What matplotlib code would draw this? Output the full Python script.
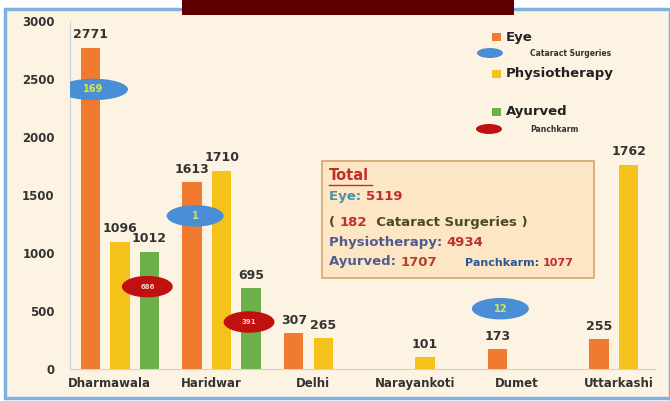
import matplotlib.pyplot as plt
from matplotlib.patches import Rectangle, Ellipse

# data
places = ['Dharmawala', 'Haridwar', 'Delhi', 'Narayankoti', 'Dumet', 'Uttarkashi']
eye = [2771, 1613, 307, 0, 173, 255]
physio = [1096, 1710, 265, 101, 0, 1762]
ayurved = [1012, 695, 0, 0, 0, 0]
cataract = {'Dharmawala': 169, 'Haridwar': 1, 'Dumet': 12}
panchkarm = {'Dharmawala': 686, 'Haridwar': 391}
# ellipse heights (where the bubbles sit on the bars)
cataract_y = {'Dharmawala': 2410, 'Haridwar': 1320, 'Dumet': 520}
panchkarm_y = {'Dharmawala': 710, 'Haridwar': 405}

W, H = 670, 401
def fx(px):
    return px / W
def fy(py):
    return 1 - py / H

fig = plt.figure(figsize=(6.7, 4.01), dpi=100)
fig.patch.set_facecolor('white')
renderer = fig.canvas.get_renderer()

# panel background + blue frame
fig.add_artist(Rectangle((fx(5), fy(398)), fx(670) - fx(5), fy(9) - fy(398),
                         transform=fig.transFigure, facecolor='#fdf3e3',
                         edgecolor='#7fb0e0', lw=2.5, zorder=0))
# dark red block on top
fig.add_artist(Rectangle((fx(182), fy(15)), fx(514) - fx(182), fy(0) - fy(15),
                         transform=fig.transFigure, facecolor='#5e0000',
                         edgecolor='none', zorder=1))

ax = fig.add_axes([fx(70), fy(369), fx(655) - fx(70), fy(21) - fy(369)])
ax.set_facecolor('none')

off, bw = 0.29, 0.19
orange, yellow, green = '#f07a30', '#f5c21b', '#6cb04a'
lab = dict(ha='center', va='bottom', fontsize=9, fontweight='bold', color='#333333')

for i, p in enumerate(places):
    for dx, vals, col in [(-off, eye, orange), (0, physio, yellow), (off, ayurved, green)]:
        v = vals[i]
        if v > 0:
            ax.bar(i + dx, v, width=bw, color=col, zorder=2)
            ax.text(i + dx, v + 55, str(v), **lab)
    if p in cataract:
        w = 0.68 if p == 'Dharmawala' else 0.56
        ax.add_patch(Ellipse((i - off + 0.03, cataract_y[p]), w, 185,
                             facecolor='#4a8fd6', edgecolor='none', zorder=4))
        ax.text(i - off + 0.03, cataract_y[p], str(cataract[p]), ha='center', va='center',
                fontsize=7, fontweight='bold', color='#d8e84a', zorder=5)
    if p in panchkarm:
        ax.add_patch(Ellipse((i + off - 0.02, panchkarm_y[p]), 0.5, 185,
                             facecolor='#c0100f', edgecolor='none', zorder=4))
        ax.text(i + off - 0.02, panchkarm_y[p], str(panchkarm[p]), ha='center', va='center',
                fontsize=5, fontweight='bold', color='#f5d0c0', zorder=5)

ax.set_xlim(-0.49, 5.26)
ax.set_ylim(0, 3000)
ax.set_yticks(range(0, 3001, 500))
ax.set_xticks([i - 0.1 for i in range(len(places))])
ax.set_xticklabels(places)
ax.tick_params(length=0, labelsize=8.5, colors='#333333', pad=6)
for t in ax.get_xticklabels() + ax.get_yticklabels():
    t.set_fontweight('bold')
ax.tick_params(axis='y', pad=11)
for s in ['top', 'right']:
    ax.spines[s].set_visible(False)
ax.spines['left'].set_color('#c8d4dc')
ax.spines['bottom'].set_color('#c8d4dc')

# legend
def sq(px, py, col):
    fig.add_artist(Rectangle((fx(px - 4.5), fy(py + 3.5)), fx(9), 7 / H,
                             transform=fig.transFigure, facecolor=col, edgecolor='none'))
def el(px, py, col):
    fig.add_artist(Ellipse((fx(px), fy(py)), fx(26), 10 / H,
                           transform=fig.transFigure, facecolor=col, edgecolor='none'))

sq(497, 37, orange)
fig.text(fx(506), fy(37), 'Eye', fontsize=9.5, fontweight='bold', color='#222222', va='center')
el(490, 53, '#4a8fd6')
fig.text(fx(530), fy(54), 'Cataract Surgeries', fontsize=5.5, fontweight='bold', color='#333333', va='center')
sq(497, 74, yellow)
fig.text(fx(506), fy(74), 'Physiotherapy', fontsize=9.5, fontweight='bold', color='#222222', va='center')
sq(497, 112, green)
fig.text(fx(506), fy(111), 'Ayurved', fontsize=9.5, fontweight='bold', color='#222222', va='center')
el(489, 129, '#c0100f')
fig.text(fx(530), fy(130), 'Panchkarm', fontsize=5.5, fontweight='bold', color='#333333', va='center')

# totals box
fig.add_artist(Rectangle((fx(322), fy(278)), fx(594) - fx(322), fy(161) - fy(278),
                         transform=fig.transFigure, facecolor='#fde6c3',
                         edgecolor='#d4a56a', lw=1.2, zorder=3))
red = '#c0302b'

def line(px, py, parts, size=9.5):
    # draw coloured pieces one after another
    x = px
    for s, c in parts:
        t = fig.text(fx(x), fy(py), s, color=c, fontsize=size, fontweight='bold',
                     va='center', zorder=4)
        x += t.get_window_extent(renderer).width

fig.text(fx(329), fy(175), 'Total', color=red, fontsize=10.5, fontweight='bold', va='center', zorder=4)
fig.add_artist(plt.Line2D([fx(329), fx(372)], [fy(185), fy(185)], color=red, lw=1, zorder=4))
line(329, 197, [('Eye: ', '#4a8fa8'), ('5119', red)])
line(329, 222, [('( ', '#4a4a2a'), ('182', red), ('  Cataract Surgeries )', '#4a4a2a')])
line(329, 242, [('Physiotherapy: ', '#4f5c8e'), ('4934', red)])
line(329, 262, [('Ayurved: ', '#4f5c8e'), ('1707', '#b8402a')])
line(465, 263, [('Panchkarm: ', '#2b5797'), ('1077', '#c8282d')], size=8)

fig.savefig('out.png', dpi=100)
